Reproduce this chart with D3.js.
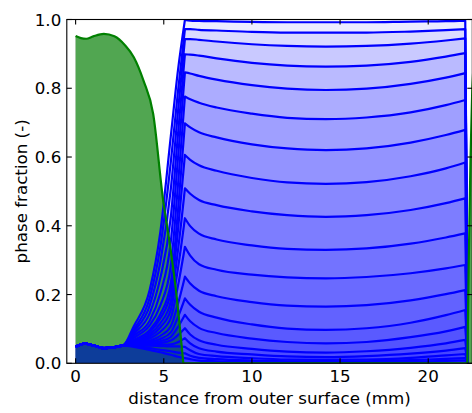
<!DOCTYPE html>
<html>
<head>
<meta charset="utf-8">
<script src="https://cdn.jsdelivr.net/npm/d3@7"></script>
<style>
  body { margin: 0; background: #fff; }
  svg { display: block; }
  text { font-family: "DejaVu Sans", sans-serif; fill: #000; }
</style>
</head>
<body>
<svg id="chart" width="472" height="413"></svg>
<script>
// ---- axis ticks ----
const xTicks = [0, 5, 10, 15, 20];
const yTicks = [0.0, 0.2, 0.4, 0.6, 0.8, 1.0];

// ---- solid phase fraction (green), same profile at every time step ----
const solidX = [0, 0.3, 0.6, 1.0, 1.6, 2.2, 2.8, 3.3, 3.85, 4.4, 4.95, 5.35, 5.73, 6.11];
const solidY = [0.952, 0.946, 0.944, 0.951, 0.958, 0.951, 0.925, 0.89, 0.822, 0.725, 0.48, 0.345, 0.195, 0];
const solidInnerX = [6.11, 22.22, 22.3, 22.4, 22.5, 22.6];
const solidInnerY = [0, 0, 0.3, 0.6, 0.8, 0.9];

// ---- liquid phase fraction (blue), one profile per time step ----
// shared surface layer
const surfaceX = [0, 0.5, 1.0, 1.6, 2.2, 2.7];
const surfaceY = [0.048, 0.057, 0.052, 0.044, 0.047, 0.052];
// front region
const frontX = [3.3, 4.2, 4.8, 5.4, 5.8];
const frontY = [
  [0.108, 0.213, 0.380, 0.661, 0.850],
  [0.098, 0.190, 0.337, 0.586, 0.788],
  [0.092, 0.168, 0.293, 0.507, 0.729],
  [0.086, 0.145, 0.247, 0.425, 0.662],
  [0.080, 0.124, 0.203, 0.354, 0.592],
  [0.074, 0.110, 0.168, 0.284, 0.515],
  [0.068, 0.097, 0.142, 0.233, 0.440],
  [0.066, 0.091, 0.130, 0.207, 0.384],
  [0.063, 0.084, 0.116, 0.180, 0.326],
  [0.061, 0.078, 0.104, 0.156, 0.274],
  [0.059, 0.072, 0.092, 0.132, 0.224],
  [0.057, 0.066, 0.080, 0.108, 0.172],
  [0.055, 0.062, 0.071, 0.090, 0.134],
  [0.054, 0.058, 0.064, 0.077, 0.105],
  [0.053, 0.055, 0.059, 0.066, 0.082],
  [0.052, 0.053, 0.054, 0.055, 0.061],
  [0.052, 0.051, 0.050, 0.049, 0.049],
  [0.050, 0.044, 0.039, 0.035, 0.031],
  [0.048, 0.039, 0.032, 0.025, 0.019]
];
// core region, from the front peak to the inner wall
const coreX = [6.2, 6.5, 7, 8, 10, 12, 14.2, 16.5, 19, 21, 22.1];
const coreY = [
  [0.999, 0.997, 0.996, 0.995, 0.993, 0.992, 0.992, 0.992, 0.994, 0.995, 0.997],
  [0.972, 0.972, 0.970, 0.968, 0.964, 0.962, 0.962, 0.962, 0.965, 0.969, 0.972],
  [0.943, 0.943, 0.941, 0.936, 0.928, 0.923, 0.921, 0.923, 0.930, 0.939, 0.945],
  [0.899, 0.898, 0.895, 0.887, 0.874, 0.866, 0.863, 0.866, 0.877, 0.892, 0.902],
  [0.846, 0.843, 0.836, 0.825, 0.809, 0.799, 0.795, 0.799, 0.813, 0.831, 0.844],
  [0.776, 0.768, 0.758, 0.744, 0.726, 0.714, 0.710, 0.715, 0.730, 0.751, 0.766],
  [0.698, 0.686, 0.672, 0.657, 0.637, 0.625, 0.620, 0.625, 0.642, 0.664, 0.679],
  [0.606, 0.592, 0.576, 0.560, 0.539, 0.526, 0.522, 0.527, 0.544, 0.567, 0.584],
  [0.509, 0.493, 0.475, 0.460, 0.442, 0.431, 0.426, 0.431, 0.446, 0.466, 0.480],
  [0.422, 0.399, 0.377, 0.360, 0.343, 0.333, 0.330, 0.334, 0.348, 0.366, 0.378],
  [0.339, 0.313, 0.288, 0.272, 0.258, 0.250, 0.247, 0.251, 0.262, 0.276, 0.286],
  [0.252, 0.232, 0.211, 0.195, 0.178, 0.168, 0.165, 0.169, 0.183, 0.201, 0.213],
  [0.189, 0.170, 0.150, 0.133, 0.113, 0.101, 0.097, 0.102, 0.118, 0.140, 0.155],
  [0.141, 0.122, 0.103, 0.088, 0.072, 0.062, 0.058, 0.062, 0.076, 0.093, 0.106],
  [0.102, 0.084, 0.067, 0.054, 0.042, 0.034, 0.031, 0.035, 0.045, 0.058, 0.068],
  [0.073, 0.058, 0.044, 0.034, 0.026, 0.020, 0.018, 0.021, 0.028, 0.037, 0.044],
  [0.048, 0.038, 0.027, 0.021, 0.015, 0.011, 0.010, 0.011, 0.016, 0.023, 0.027],
  [0.029, 0.022, 0.016, 0.012, 0.008, 0.006, 0.005, 0.006, 0.009, 0.013, 0.015],
  [0.015, 0.012, 0.008, 0.006, 0.004, 0.003, 0.002, 0.003, 0.004, 0.007, 0.008]
];
const wallX = 22.25;

// ---- layout ----
const plot = { left: 66.8, right: 472.3, top: 19.5, bottom: 363.3 };
const svg = d3.select("#chart");
const x = d3.scaleLinear().domain([-0.5, 22.5]).range([plot.left, plot.right]);
const y = d3.scaleLinear().domain([0, 1]).range([plot.bottom, plot.top]);

svg.append("defs").append("clipPath").attr("id", "plotClip")
  .append("rect")
  .attr("x", plot.left).attr("y", plot.top)
  .attr("width", plot.right - plot.left).attr("height", plot.bottom - plot.top);

const g = svg.append("g").attr("clip-path", "url(#plotClip)");

const smooth = d3.line().x(d => x(d[0])).y(d => y(d[1])).curve(d3.curveMonotoneX);
const straight = d3.line().x(d => x(d[0])).y(d => y(d[1]));
const zip = (xs, ys) => xs.map((v, i) => [v, ys[i]]);

// solid phase outline: outer layer, then zero through the core and the inner layer
const solidOuter = zip(solidX, solidY);
const solidInner = zip(solidInnerX, solidInnerY);
const solidPath = smooth(solidOuter) + straight(solidInner).replace(/^M/, "L");
const solidFill = smooth(solidOuter) + `L${x(solidX[0])},${y(0)}Z` +
  straight(solidInner) + `L${x(solidInnerX[solidInnerX.length - 1])},${y(0)}Z`;

// liquid profiles
const liquidPaths = coreY.map((core, k) => {
  const outer = zip(surfaceX, surfaceY)
    .concat(zip(frontX, frontY[k]))
    .concat([[coreX[0], core[0]]]);
  const inner = zip(coreX, core);
  return smooth(outer) + smooth(inner).replace(/^M/, "L") + `L${x(wallX)},${y(0)}`;
});

// each time step fills both phases with a translucent layer
liquidPaths.forEach(p => {
  g.append("path")
    .attr("d", solidFill)
    .attr("fill", "green").attr("fill-opacity", 0.054).attr("stroke", "none");
  g.append("path")
    .attr("d", p + `L${x(surfaceX[0])},${y(0)}Z`)
    .attr("fill", "blue").attr("fill-opacity", 0.075).attr("stroke", "none");
});
liquidPaths.forEach(p => {
  g.append("path")
    .attr("d", p)
    .attr("fill", "none").attr("stroke", "blue").attr("stroke-width", 2.2)
    .attr("stroke-linejoin", "round");
});

g.append("path")
  .attr("d", solidPath)
  .attr("fill", "none").attr("stroke", "green").attr("stroke-width", 2.2)
  .attr("stroke-linejoin", "round");

// ---- frame, inward ticks on all sides ----
const frame = svg.append("g").attr("stroke", "#000").attr("stroke-width", 1.1).attr("fill", "none");
frame.append("rect")
  .attr("x", plot.left).attr("y", plot.top)
  .attr("width", plot.right - plot.left).attr("height", plot.bottom - plot.top);

const tickLen = 5;
xTicks.forEach(t => {
  const px = x(t);
  frame.append("line").attr("x1", px).attr("x2", px).attr("y1", plot.bottom).attr("y2", plot.bottom - tickLen);
  frame.append("line").attr("x1", px).attr("x2", px).attr("y1", plot.top).attr("y2", plot.top + tickLen);
});
yTicks.forEach(t => {
  const py = y(t);
  frame.append("line").attr("x1", plot.left).attr("x2", plot.left + tickLen).attr("y1", py).attr("y2", py);
  frame.append("line").attr("x1", plot.right).attr("x2", plot.right - tickLen).attr("y1", py).attr("y2", py);
});

const fontSize = 16.7;
svg.append("g").selectAll("text").data(xTicks).join("text")
  .attr("x", d => x(d)).attr("y", 382)
  .attr("text-anchor", "middle").attr("font-size", fontSize)
  .text(d => d3.format("d")(d));

svg.append("g").selectAll("text").data(yTicks).join("text")
  .attr("x", plot.left - 5.5).attr("y", d => y(d)).attr("dy", "0.36em")
  .attr("text-anchor", "end").attr("font-size", fontSize)
  .text(d => d3.format(".1f")(d));

svg.append("text")
  .attr("x", (plot.left + plot.right) / 2).attr("y", 404)
  .attr("text-anchor", "middle").attr("font-size", fontSize)
  .text("distance from outer surface (mm)");

svg.append("text")
  .attr("transform", `translate(27,${(plot.top + plot.bottom) / 2}) rotate(-90)`)
  .attr("text-anchor", "middle").attr("font-size", fontSize)
  .text("phase fraction (-)");
</script>
</body>
</html>
